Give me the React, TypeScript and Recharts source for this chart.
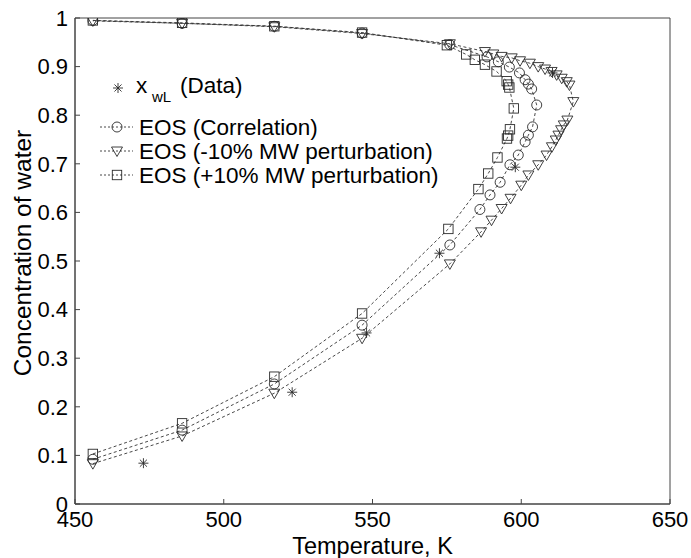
import React from 'react';
import { ScatterChart, Scatter, XAxis, YAxis, ReferenceArea, Legend } from 'recharts';

const FONT = '"Liberation Sans", Arial, Helvetica, sans-serif';

// Temperature ticks and concentration ticks
const xTicks = [450, 500, 550, 600, 650];
const yTicks = [0, 0.1, 0.2, 0.3, 0.4, 0.5, 0.6, 0.7, 0.8, 0.9, 1];

// x_wL (Data)
const dataT = [473, 523, 548, 572.5, 598, 610.5];
const dataC = [0.084, 0.23, 0.352, 0.516, 0.693, 0.887];

// EOS (Correlation)
const corrT = [456, 486, 517, 546.5, 576, 586.1, 589.5, 592.9, 596.2, 599, 601.3, 602.4, 603.8, 605.2, 603.5, 602.4, 601.3, 599.4, 596, 592.3, 588.5, 576, 546.5, 517, 486, 456];
const corrC = [0.092, 0.152, 0.247, 0.368, 0.533, 0.606, 0.636, 0.662, 0.698, 0.718, 0.745, 0.759, 0.776, 0.821, 0.854, 0.864, 0.873, 0.887, 0.899, 0.91, 0.92, 0.945, 0.969, 0.983, 0.989, 0.995];

// EOS (-10% MW perturbation)
const minusT = [456, 486, 517, 546.5, 576, 586.5, 590, 593.4, 596.4, 600, 602.4, 605.7, 608.5, 610.3, 611.6, 612.5, 613.4, 614.3, 615.5, 617.5, 616.2, 615.3, 613.6, 611.9, 610.2, 608, 605.7, 602.9, 599.6, 596.8, 593.4, 590.6, 587.8, 576, 546.5, 517, 486, 456];
const minusC = [0.083, 0.14, 0.228, 0.341, 0.494, 0.56, 0.584, 0.608, 0.629, 0.656, 0.677, 0.698, 0.718, 0.735, 0.749, 0.759, 0.77, 0.78, 0.79, 0.828, 0.862, 0.869, 0.876, 0.883, 0.89, 0.895, 0.9, 0.907, 0.912, 0.918, 0.921, 0.926, 0.931, 0.947, 0.968, 0.982, 0.989, 0.994];

// EOS (+10% MW perturbation)
const plusT = [456, 486, 517, 546.5, 575.5, 585.6, 588.9, 592, 595.2, 595.6, 596.2, 597.5, 596, 595.6, 595.1, 591.7, 587.8, 584.4, 581.5, 575, 546.5, 517, 486, 456];
const plusC = [0.103, 0.166, 0.262, 0.392, 0.566, 0.648, 0.68, 0.713, 0.752, 0.758, 0.771, 0.814, 0.857, 0.863, 0.87, 0.89, 0.904, 0.914, 0.925, 0.944, 0.97, 0.983, 0.99, 0.995];

const zip = (ts: number[], cs: number[]) => ts.map((t, i) => ({ t, c: cs[i] }));

const dataPts = zip(dataT, dataC);
const corrPts = zip(corrT, corrC);
const minusPts = zip(minusT, minusC);
const plusPts = zip(plusT, plusC);

const MK = '#2a2a2a';

function Marker({ cx, cy, kind }: { cx: number; cy: number; kind: string }) {
  if (cx == null || cy == null) return null;
  if (kind === 'circle') {
    return <circle cx={cx} cy={cy} r={5} fill="none" stroke={MK} strokeWidth={0.9} />;
  }
  if (kind === 'tri') {
    const p = `${cx - 5.5},${cy - 4} ${cx + 5.5},${cy - 4} ${cx},${cy + 5.5}`;
    return <polygon points={p} fill="none" stroke={MK} strokeWidth={0.9} />;
  }
  if (kind === 'square') {
    return <rect x={cx - 4.7} y={cy - 4.7} width={9.4} height={9.4} fill="none" stroke={MK} strokeWidth={0.9} />;
  }
  // asterisk
  const r = 5;
  const d = r * 0.707;
  return (
    <g stroke={MK} strokeWidth={0.9}>
      <line x1={cx - r} y1={cy} x2={cx + r} y2={cy} />
      <line x1={cx} y1={cy - r} x2={cx} y2={cy + r} />
      <line x1={cx - d} y1={cy - d} x2={cx + d} y2={cy + d} />
      <line x1={cx - d} y1={cy + d} x2={cx + d} y2={cy - d} />
    </g>
  );
}

const lineStyle = { stroke: '#333', strokeWidth: 0.9, strokeDasharray: '3 2.5' };

function LegendBox() {
  const rows = [
    { kind: 'circle', label: 'EOS (Correlation)', cy: 57 },
    { kind: 'tri', label: 'EOS (-10% MW perturbation)', cy: 81 },
    { kind: 'square', label: 'EOS (+10% MW perturbation)', cy: 105 },
  ];
  return (
    <svg width={370} height={125} style={{ overflow: 'visible', fontFamily: FONT }}>
      <Marker cx={26} cy={18} kind="star" />
      <text x={44} y={23} fontSize={22.5} fill="#000">x</text>
      <text x={60} y={32} fontSize={15} fill="#000">wL</text>
      <text x={88} y={23} fontSize={22.5} fill="#000">(Data)</text>
      {rows.map((r) => (
        <g key={r.label}>
          <line x1={8} y1={r.cy} x2={41} y2={r.cy} stroke="#333" strokeWidth={0.9} strokeDasharray="2 2" />
          <Marker cx={25} cy={r.cy} kind={r.kind} />
          <text x={47} y={r.cy + 8} fontSize={22.5} textLength={undefined} fill="#000">{r.label}</text>
        </g>
      ))}
    </svg>
  );
}

const YLabel = (props: any) => {
  const vb = props.viewBox || {};
  const cy = (vb.y || 0) + (vb.height || 0) / 2 - 8;
  const cx = 22;
  return (
    <text x={cx} y={cy} transform={`rotate(-90 ${cx} ${cy})`} textAnchor="middle" dominantBaseline="central" fontSize={24.5} fontFamily={FONT} fill="#000">
      Concentration of water
    </text>
  );
};

export default function App() {
  const tickStyle = { fontSize: 22, fontFamily: FONT, fill: '#000' };
  return (
    <div style={{ position: 'absolute', left: 0, top: 0, width: 691, height: 558, background: '#fff' }}>
      <ScatterChart width={691} height={558} margin={{ top: 18, right: 21, bottom: 0, left: 0 }}>
        <XAxis
          xAxisId={0}
          type="number"
          dataKey="t"
          domain={[450, 650]}
          ticks={xTicks}
          allowDataOverflow
          height={54}
          tickSize={-5}
          tickMargin={12}
          tick={tickStyle}
          stroke="#444"
          label={{ value: 'Temperature, K', position: 'insideBottom', offset: 4, fontSize: 23.5, fontFamily: FONT, fill: '#000' }}
        />
        <XAxis
          xAxisId="top"
          orientation="top"
          type="number"
          dataKey="t"
          domain={[450, 650]}
          ticks={xTicks}
          allowDataOverflow
          height={0}
          tickSize={-5}
          tick={false}
          stroke="#444"
        />
        <YAxis
          yAxisId={0}
          type="number"
          dataKey="c"
          domain={[0, 1]}
          ticks={yTicks}
          allowDataOverflow
          width={75}
          tickSize={-5}
          tickMargin={12}
          tick={tickStyle}
          stroke="#444"
          label={<YLabel />}
        />
        <YAxis
          yAxisId="right"
          orientation="right"
          type="number"
          dataKey="c"
          domain={[0, 1]}
          ticks={yTicks}
          allowDataOverflow
          width={0}
          tickSize={-5}
          tick={false}
          stroke="#444"
        />
        <ReferenceArea x1={450} x2={650} y1={0} y2={1} fill="none" fillOpacity={0} stroke="#444" strokeWidth={1} ifOverflow="visible" />
        <Scatter name="EOS (Correlation)" data={corrPts} line={lineStyle} lineType="joint" isAnimationActive={false}
          shape={(p: any) => <Marker cx={p.cx} cy={p.cy} kind="circle" />} />
        <Scatter name="EOS (-10% MW perturbation)" data={minusPts} line={lineStyle} lineType="joint" isAnimationActive={false}
          shape={(p: any) => <Marker cx={p.cx} cy={p.cy} kind="tri" />} />
        <Scatter name="EOS (+10% MW perturbation)" data={plusPts} line={lineStyle} lineType="joint" isAnimationActive={false}
          shape={(p: any) => <Marker cx={p.cx} cy={p.cy} kind="square" />} />
        <Scatter name="x_wL (Data)" data={dataPts} isAnimationActive={false}
          shape={(p: any) => <Marker cx={p.cx} cy={p.cy} kind="star" />} />
        <Legend
          layout="vertical"
          align="center"
          verticalAlign="middle"
          wrapperStyle={{ left: 92, top: 70, width: 370, height: 125 }}
          content={() => <LegendBox />}
        />
      </ScatterChart>
    </div>
  );
}
